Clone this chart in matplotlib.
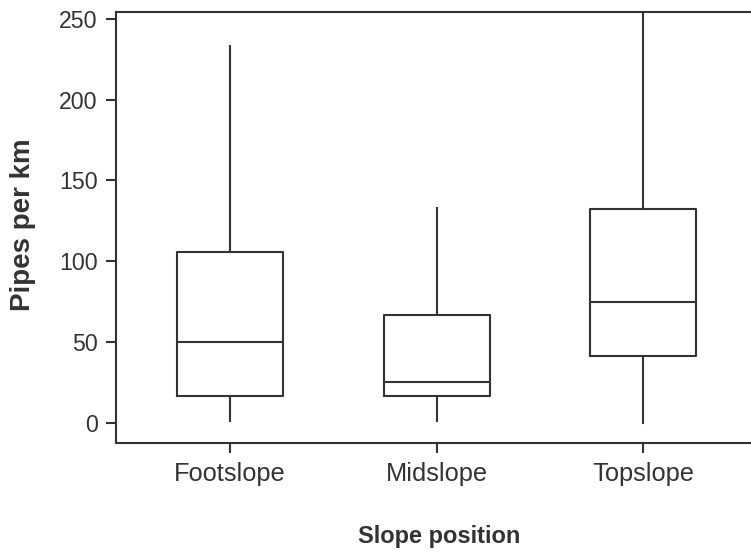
import matplotlib.pyplot as plt

plt.rcParams['font.family'] = ['Liberation Sans', 'DejaVu Sans']

# pipe density summary per slope position
positions = ['Footslope', 'Midslope', 'Topslope']
whislo = [1.2, 0.9, 0.0]
q1 = [16.7, 16.5, 41.1]
median = [50.2, 25.0, 74.5]
q3 = [105.6, 66.9, 132.3]
whishi = [233.2, 133.1, 270.0]
yticks = [0, 50, 100, 150, 200, 250]

ink = '#333333'

stats = []
for i, name in enumerate(positions):
    stats.append({'label': name, 'whislo': whislo[i], 'q1': q1[i], 'med': median[i],
                  'q3': q3[i], 'whishi': whishi[i], 'fliers': []})

fig = plt.figure(figsize=(7.51, 5.56), dpi=100)
ax = fig.add_axes([115.7 / 751, 1 - 442.7 / 556, 1 - 115.7 / 751, (442.7 - 11.7) / 556])

lp = dict(color=ink, linewidth=1.5)
ax.bxp(stats, positions=[1, 2, 3], widths=0.513, showcaps=False,
       boxprops=lp, whiskerprops=lp, medianprops=lp, capprops=lp)

ax.set_xlim(0.447, 3.521)
ax.set_ylim(-12.4, 254.5)
ax.set_yticks(yticks)
ax.spines['right'].set_visible(False)
for s in ['left', 'bottom', 'top']:
    ax.spines[s].set_color(ink)
    ax.spines[s].set_linewidth(1.5)
ax.tick_params(colors=ink, width=1.5, length=7)
ax.tick_params(axis='y', labelsize=16.7, pad=6)
ax.tick_params(axis='x', labelsize=18.3, pad=7)

fig.text(23 / 751, 1 - 225 / 556, 'Pipes per km', rotation=90, ha='center', va='center',
         fontsize=20, fontweight='bold', color=ink)
fig.text(439.5 / 751, 1 - 537 / 556, 'Slope position', ha='center', va='center',
         fontsize=17, fontweight='bold', color=ink)

fig.savefig('out.png', dpi=100)
